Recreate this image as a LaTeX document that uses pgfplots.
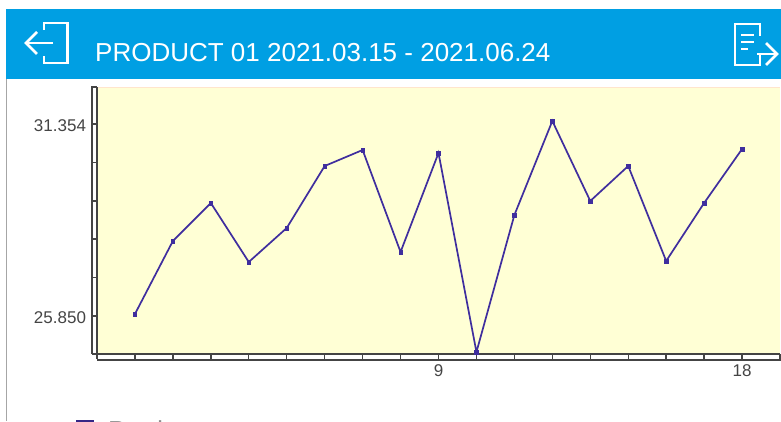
\documentclass[border=0pt]{standalone}
\usepackage{pgfplots}
\pgfplotsset{compat=1.18}
\usepackage{fontspec}
\setmainfont{Liberation Sans}
\definecolor{hdr}{HTML}{009FE3}
\definecolor{bgy}{HTML}{FFFFD5}
\definecolor{ln}{HTML}{3F2E9E}
\definecolor{ax}{HTML}{444444}
\definecolor{txt}{HTML}{444444}
\pgfplotstableread{
x y
1 25.907
2 28.000
3 29.089
4 27.398
5 28.373
6 30.150
7 30.609
8 27.685
9 30.523
10 24.818
11 28.745
12 31.440
13 29.147
14 30.150
15 27.427
16 29.089
17 30.637
}\datatable
\begin{document}
\begin{tikzpicture}[x=1pt,y=1pt]
\path[use as bounding box] (0,0) rectangle (781,421);
\begin{scope}
\clip (0,0) rectangle (781,421);
% page furniture
\draw[color=black!35,line width=1pt] (6.5,0) -- (6.5,345);
\fill[hdr] (6,342) rectangle (781,412);
% exit icon (left)
\draw[white,line width=2.8pt] (44,391) -- (44,398) -- (67.5,398) -- (67.5,358) -- (44,358) -- (44,365);
\draw[white,line width=2.8pt] (53,378) -- (26,378);
\draw[white,line width=2.8pt] (37,389) -- (26,378) -- (37,367);
% export icon (right)
\draw[white,line width=2.8pt] (760,385) -- (760,397) -- (735,397) -- (735,356) -- (760,356) -- (760,366);
\draw[white,line width=2.8pt] (741,386) -- (754,386);
\draw[white,line width=2.8pt] (741,379) -- (754,379);
\draw[white,line width=2.8pt] (741,372) -- (748,372);
\draw[white,line width=2.8pt] (757,367) -- (777,367);
\draw[white,line width=2.8pt] (766,378) -- (777,367) -- (766,356);
\node[anchor=base west,inner sep=0pt,text=white,font=\fontsize{26}{26}\selectfont] at (95,359) {PRODUCT 01 2021.03.15 - 2021.06.24};
\begin{axis}[
  at={(97pt,67pt)},anchor=south west,
  scale only axis,width=683pt,height=267pt,
  xmin=0,xmax=18,
  ymin=24.76,ymax=32.415,
  axis background/.style={fill=bgy},
  axis line style={draw=ax,line width=1.6pt},
  axis x line*=bottom,axis y line*=left,
  clip=false,
  xtick={0,1,...,18},
  xticklabels={,,,,,,,,,9,,,,,,,,18,},
  ytick={25.850,26.9508,28.0516,29.1524,30.2532,31.354},
  yticklabels={25.850,,,,,31.354},
  tick align=outside,
  major tick length=5pt,
  tick style={draw=ax,line width=1.4pt},
  tick label style={font=\fontsize{17}{17}\selectfont,text=txt},
  /pgf/number format/assume math mode=true,
  xticklabel style={yshift=-2pt},
  yticklabel style={xshift=-2.5pt,yshift=-1.5pt},
]
\addplot[color=ln,line width=1.7pt,mark=square*,mark size=1.8pt,mark options={fill=ln,draw=ln,line width=.5pt}] table[x=x,y=y] {\datatable};
\end{axis}
% tick strips
\draw[ax,line width=1.4pt] (92,67) -- (92,334) -- (97,334);
\draw[ax,line width=1.4pt] (92,67) -- (97,67);
\draw[ax,line width=1.4pt] (97,61) -- (780,61) -- (780,67);
\draw[orange!20,line width=.8pt] (98,334) -- (780,334);
% legend, cut by the page edge
\fill[ln!85!black] (76,-8) rectangle (94,1.5);
\node[anchor=base west,inner sep=0pt,text=black!45,font=\fontsize{26}{26}\selectfont] at (108,-18.5) {Product};
\end{scope}
\end{tikzpicture}
\end{document}
